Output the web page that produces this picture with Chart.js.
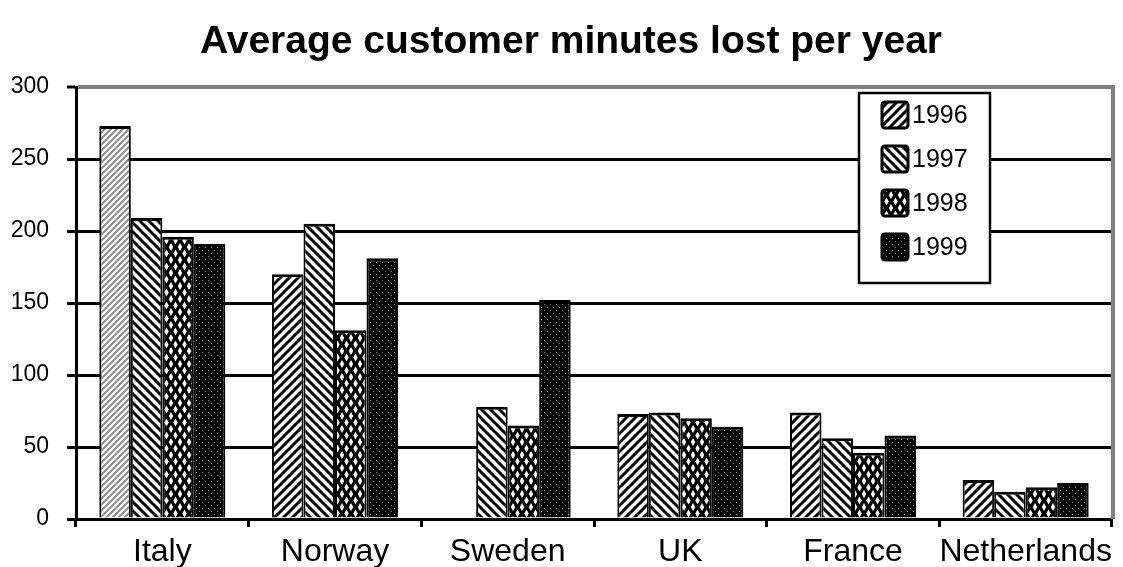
<!DOCTYPE html>
<html>
<head>
<meta charset="utf-8">
<title>Average customer minutes lost per year</title>
<script src="https://cdn.jsdelivr.net/npm/chart.js@4"></script>
<style>
  body { margin: 0; background: #fff; }
  #wrap { width: 1123px; height: 567px; }
</style>
</head>
<body>
<div id="wrap"><canvas id="minutes_chart"></canvas></div>
<script>
var chartTitle = 'Average customer minutes lost per year';
var countries = ['Italy', 'Norway', 'Sweden', 'UK', 'France', 'Netherlands'];
var years = ['1996', '1997', '1998', '1999'];
var mins1996 = [273, 170, null, 73, 74, 27];
var mins1997 = [209, 205, 78, 74, 56, 19];
var mins1998 = [196, 131, 65, 70, 46, 22];
var mins1999 = [191, 181, 152, 64, 58, 25];
var yTicks = [0, 50, 100, 150, 200, 250, 300];

var FONT = "'Liberation Sans', Arial, sans-serif";
Chart.defaults.font.family = FONT;
Chart.defaults.color = '#000';

// small tiles used as bar fills
function tile(w, h, draw) {
    var c = document.createElement('canvas');
    c.width = w;
    c.height = h;
    var g = c.getContext('2d');
    draw(g, w, h);
    return g.createPattern(c, 'repeat');
}

function stripes(color, size, width, back) {
    return tile(size, size, function(g, w, h) {
        g.fillStyle = '#fff';
        g.fillRect(0, 0, w, h);
        g.strokeStyle = color;
        g.lineWidth = width;
        g.beginPath();
        for (var k = -1; k <= 1; k++) {
            if (back) {
                g.moveTo(k * w - 1, -1);
                g.lineTo(k * w + w + 1, h + 1);
            } else {
                g.moveTo(k * w - 1, h + 1);
                g.lineTo(k * w + w + 1, -1);
            }
        }
        g.stroke();
    });
}

var fwdGray = stripes('#8c8c8c', 6, 2, false);
var fwd = stripes('#000', 9, 3, false);
var bwd = stripes('#000', 9, 3, true);

var diamonds = tile(9, 13, function(g, w, h) {
    g.fillStyle = '#000';
    g.fillRect(0, 0, w, h);
    g.fillStyle = '#fff';
    [[w / 2, h / 2], [0, 0], [w, 0], [0, h], [w, h]].forEach(function(p) {
        g.beginPath();
        g.moveTo(p[0], p[1] - 4);
        g.lineTo(p[0] + 2.2, p[1]);
        g.lineTo(p[0], p[1] + 4);
        g.lineTo(p[0] - 2.2, p[1]);
        g.closePath();
        g.fill();
    });
});

var dots = tile(6, 6, function(g, w, h) {
    g.fillStyle = '#000';
    g.fillRect(0, 0, w, h);
    g.fillStyle = '#8a8a8a';
    g.fillRect(1, 1, 1, 1);
    g.fillRect(4, 4, 1, 1);
});

// first Italy bar is shown with grey hatching
var fill1996 = countries.map(function(c, i) { return i === 0 ? fwdGray : fwd; });

var barBorder = { top: 3, left: 2, right: 2, bottom: 0 };

// title, right-hand grey frame line and the boxed legend inside the plot
var frameAndLegend = {
    id: 'frameAndLegend',
    afterDraw: function(chart) {
        var ctx = chart.ctx;
        var area = chart.chartArea;
        ctx.save();

        // title sits a little right of the canvas centre
        ctx.font = 'bold 39px ' + FONT;
        ctx.fillStyle = '#000';
        ctx.textAlign = 'center';
        ctx.textBaseline = 'middle';
        ctx.fillText(chartTitle, 571, 42);

        ctx.strokeStyle = '#808080';
        ctx.lineWidth = 4;
        ctx.beginPath();
        ctx.moveTo(area.right + 1, area.top - 2);
        ctx.lineTo(area.right + 1, area.bottom);
        ctx.stroke();

        var bx = area.right - 253, by = area.top + 6, bw = 131, bh = 190;
        ctx.fillStyle = '#fff';
        ctx.fillRect(bx, by, bw, bh);
        ctx.strokeStyle = '#000';
        ctx.lineWidth = 2.5;
        ctx.strokeRect(bx, by, bw, bh);

        ctx.font = '25px ' + FONT;
        ctx.textAlign = 'left';
        chart.data.datasets.forEach(function(ds, i) {
            var cy = by + 22 + i * 44;
            var sx = bx + 23, sy = cy - 13;
            ctx.fillStyle = i === 0 ? fwd : ds.backgroundColor;
            ctx.beginPath();
            ctx.roundRect(sx, sy, 26, 26, 3);
            ctx.fill();
            ctx.lineWidth = 3;
            ctx.strokeStyle = '#000';
            ctx.stroke();
            ctx.fillStyle = '#000';
            ctx.fillText(ds.label, sx + 30, cy + 1);
        });
        ctx.restore();
    }
};

new Chart(document.getElementById('minutes_chart'), {
    type: 'bar',
    data: {
        labels: countries,
        datasets: [
            { label: years[0], data: mins1996, backgroundColor: fill1996 },
            { label: years[1], data: mins1997, backgroundColor: bwd },
            { label: years[2], data: mins1998, backgroundColor: diamonds },
            { label: years[3], data: mins1999, backgroundColor: dots }
        ]
    },
    options: {
        responsive: true,
        maintainAspectRatio: false,
        animation: false,
        layout: { padding: { top: 87, right: 11, bottom: 0, left: 0 } },
        datasets: {
            bar: {
                borderColor: '#000',
                borderWidth: barBorder,
                borderSkipped: false,
                categoryPercentage: 0.73,
                barPercentage: 1.0
            }
        },
        plugins: {
            legend: { display: false },
            tooltip: { enabled: false },
            title: { display: false }
        },
        scales: {
            x: {
                afterFit: function(scale) { scale.height = 48; },
                border: { display: true, color: '#000', width: 3 },
                grid: {
                    offset: true,
                    drawOnChartArea: false,
                    drawTicks: true,
                    tickLength: 8,
                    tickColor: '#000',
                    tickWidth: 3
                },
                ticks: {
                    padding: 9,
                    font: { size: 32, lineHeight: 1.0 },
                    color: '#000',
                    maxRotation: 0,
                    autoSkip: false
                }
            },
            y: {
                min: 0,
                max: 300,
                afterFit: function(scale) { scale.width = 76; },
                afterBuildTicks: function(scale) {
                    scale.ticks = yTicks.map(function(v) { return { value: v }; });
                },
                border: { display: true, color: '#000', width: 3 },
                grid: {
                    color: function(ctx) {
                        return ctx.tick && ctx.tick.value === 300 ? '#808080' : '#000';
                    },
                    lineWidth: function(ctx) {
                        return ctx.tick && ctx.tick.value === 300 ? 4 : 3;
                    },
                    tickLength: 9,
                    tickColor: '#000',
                    tickWidth: 3
                },
                ticks: {
                    padding: 18,
                    font: { size: 23 },
                    color: '#000'
                }
            }
        }
    },
    plugins: [frameAndLegend]
});
</script>
</body>
</html>
